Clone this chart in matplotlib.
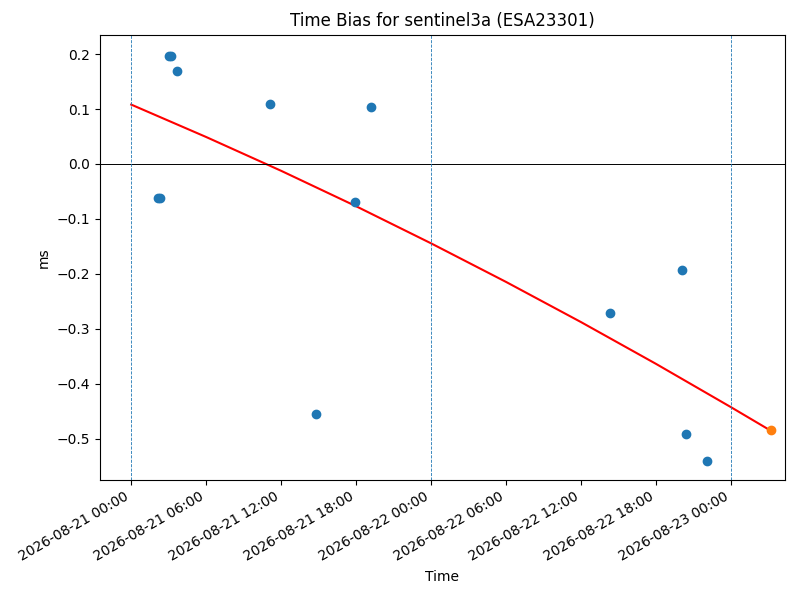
import numpy as np
import pandas as pd
import matplotlib
matplotlib.use("Agg")
import matplotlib.pyplot as plt
import matplotlib.dates as mdates

# observed time bias (hours after 2026-08-21 00:00, ms)
obs_hours = [2.17, 2.29, 3.05, 3.17, 3.7, 11.1, 14.8, 17.9, 19.2, 38.3, 44.1, 44.4, 46.1]
obs_bias = [-0.062, -0.062, 0.197, 0.197, 0.170, 0.109, -0.455, -0.070, 0.104,
            -0.271, -0.193, -0.492, -0.541]

# predicted point
pred_hours = [51.2]
pred_bias = [-0.484]

# trend curve
trend_hours = [0, 6, 12, 18, 24, 30, 36, 42, 48, 51.2]
trend_bias = [0.108, 0.049, -0.0125, -0.077, -0.1445, -0.2147, -0.2878, -0.3638,
              -0.4426, -0.4856]

day_marks = ["2026-08-21 00:00", "2026-08-22 00:00", "2026-08-23 00:00"]

t0 = pd.Timestamp("2026-08-21 00:00")
obs_t = [t0 + pd.Timedelta(hours=h) for h in obs_hours]
pred_t = [t0 + pd.Timedelta(hours=h) for h in pred_hours]
trend_t = [t0 + pd.Timedelta(hours=h) for h in trend_hours]

fig, ax = plt.subplots(figsize=(8, 6), dpi=100)

ax.scatter(obs_t, obs_bias, color="tab:blue", s=36, zorder=3)
ax.scatter(pred_t, pred_bias, color="tab:orange", s=36, zorder=3)
ax.plot(trend_t, trend_bias, color="red", zorder=2)
ax.axhline(0, color="black", lw=0.7)
for d in day_marks:
    ax.axvline(pd.Timestamp(d), color="#1f77b4", ls="--", lw=0.6)

ax.set_xlim(t0 - pd.Timedelta(hours=2.5), t0 + pd.Timedelta(hours=52.3))
ax.set_ylim(-0.575, 0.235)
ax.xaxis.set_major_locator(mdates.HourLocator(byhour=[0, 6, 12, 18]))
ax.xaxis.set_major_formatter(mdates.DateFormatter("%Y-%m-%d %H:%M"))

ax.set_title("Time Bias for sentinel3a (ESA23301)")
ax.set_xlabel("Time")
ax.set_ylabel("ms")
fig.autofmt_xdate()
fig.subplots_adjust(left=0.125, right=0.981, top=0.942, bottom=0.2)

fig.savefig("out.png")
